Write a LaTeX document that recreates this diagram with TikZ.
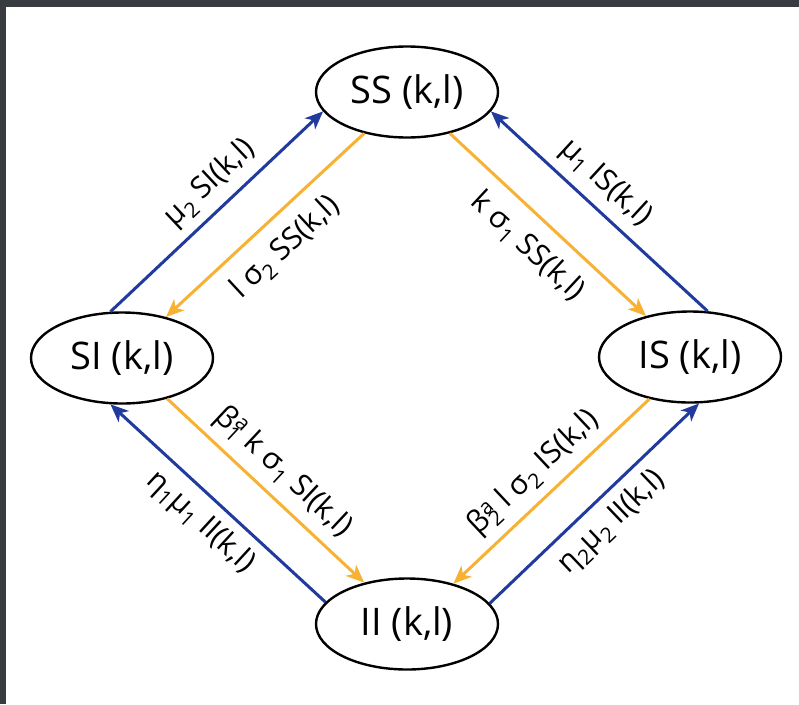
\documentclass[tikz,border=0pt]{standalone}
\usepackage{fontspec}
\setmainfont{Open Sans}
\usetikzlibrary{arrows.meta,shapes.geometric}
\definecolor{rateblue}{RGB}{32,58,158}
\definecolor{rateorange}{RGB}{247,178,52}
\definecolor{framegray}{RGB}{56,59,64}
% lowered index and stacked super/subscript
\newcommand\lo[1]{\textsubscript{#1}}
\newcommand\supsub[2]{\rlap{\textsuperscript{#1}}\textsubscript{#2}}
\begin{document}
\begin{tikzpicture}[x=1pt,y=-1pt,
  state/.style={draw=black, line width=2.4pt, ellipse, minimum width=182pt,
    minimum height=91pt, inner sep=0pt, font=\fontsize{38}{44}\selectfont},
  flow/.style={line width=3pt, -{Stealth[length=18pt,width=15pt,inset=5pt]}},
  rate/.style={text=black, font=\fontsize{30}{36}\selectfont, sloped, midway, inner sep=9pt},
]
\useasboundingbox (0,0) rectangle (799,704);
\fill[white] (0,0) rectangle (799,704);
\fill[framegray] (0,0) rectangle (799,7);
\fill[framegray] (0,0) rectangle (6,704);

\node[state] (SS) at (407,92) {SS (k,l)};
\node[state] (SI) at (122,358) {SI (k,l)};
\node[state] (IS) at (690,357) {IS (k,l)};
\node[state] (II) at (407,624) {II (k,l)};

\draw[flow, rateblue] (SI.104) -- (SS.193) node[rate, above, pos=0.55] {μ\lo{2} SI(k,l)};
\draw[flow, rateorange] (SS.224) -- (SI.43) node[rate, below, inner sep=14pt] {l σ\lo{2} SS(k,l)};
\draw[flow, rateorange] (SS.316) -- (IS.137) node[rate, below, inner sep=14pt] {k σ\lo{1} SS(k,l)};
\draw[flow, rateblue] (IS.69) -- (SS.347) node[rate, above, pos=0.55] {μ\lo{1} IS(k,l)};
\draw[flow, rateorange] (SI.318) -- (II.136) node[rate, above] {β\supsub{a}{1} k σ\lo{1} SI(k,l)};
\draw[flow, rateblue] (II.165) -- (SI.256) node[rate, below] {η\lo{1}μ\lo{1} II(k,l)};
\draw[flow, rateorange] (IS.226) -- (II.41) node[rate, above] {β\supsub{a}{2} l σ\lo{2} IS(k,l)};
\draw[flow, rateblue] (II.14) -- (IS.281) node[rate, below] {η\lo{2}μ\lo{2} II(k,l)};
\end{tikzpicture}
\end{document}
